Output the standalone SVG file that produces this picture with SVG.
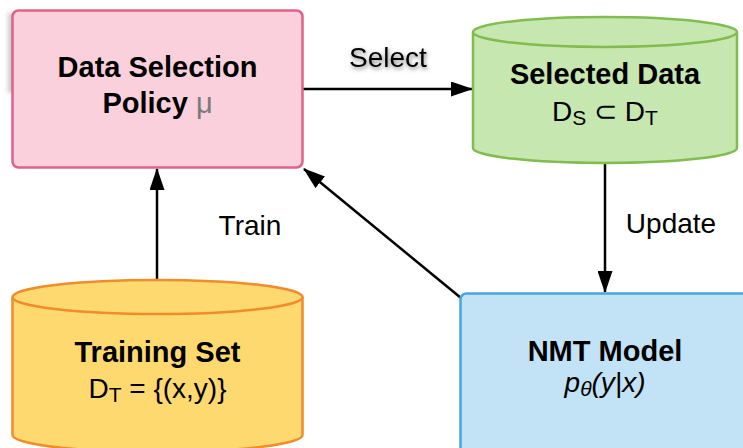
<svg xmlns="http://www.w3.org/2000/svg" width="743" height="448" viewBox="0 0 743 448">
  <style>
    text { font-family: "Liberation Sans", Arial, sans-serif; fill: #000; }
    .title { font-size: 29px; font-weight: bold; }
    .sub { font-size: 28px; }
    .label { font-size: 28px; }
    .edge { fill: none; stroke: #000; stroke-width: 2.5; }
  </style>
  <defs>
    <marker id="arrow" viewBox="0 0 22 15" refX="21" refY="7.5" markerWidth="22" markerHeight="15" markerUnits="userSpaceOnUse" orient="auto">
      <path d="M0,0 L22,7.5 L0,15 Z" fill="#000"/>
    </marker>
    <filter id="soft" x="-50%" y="-50%" width="200%" height="200%">
      <feGaussianBlur stdDeviation="2"/>
    </filter>
    <filter id="textShadow" x="-20%" y="-40%" width="140%" height="180%">
      <feDropShadow dx="1" dy="2" stdDeviation="2.2" flood-color="#000" flood-opacity="0.5"/>
    </filter>
  </defs>

  <!-- connectors -->
  <g id="connectors">
    <line class="edge" x1="303" y1="89" x2="472" y2="89" marker-end="url(#arrow)"/>
    <line class="edge" x1="157" y1="281" x2="157" y2="169" marker-end="url(#arrow)"/>
    <line class="edge" x1="461" y1="298" x2="304" y2="169" marker-end="url(#arrow)"/>
    <line class="edge" x1="605" y1="162" x2="605" y2="292" marker-end="url(#arrow)"/>
    <text class="label" x="388" y="67" text-anchor="middle" filter="url(#textShadow)">Select</text>
    <text class="label" x="250" y="235" text-anchor="middle">Train</text>
    <text class="label" x="671" y="233" text-anchor="middle">Update</text>
  </g>

  <!-- policy -->
  <g id="policy">
    <rect x="8" y="13" width="12" height="80" fill="#999" opacity="0.5" filter="url(#soft)"/>
    <rect x="12.5" y="10.5" width="290" height="157" rx="6" fill="#f9d0dc" stroke="#e0628a" stroke-width="2.5"/>
    <text class="title" x="157.5" y="77" text-anchor="middle">Data Selection</text>
    <text class="title" x="157.5" y="113" text-anchor="middle">Policy <tspan font-weight="normal" fill="#7a7a7a">μ</tspan></text>
  </g>

  <!-- selected data -->
  <g id="selected-data">
    <path d="M473,32 L473,148 A132,15 0 0 0 737,148 L737,32" fill="#c7e7b0" stroke="#80bc4e" stroke-width="2.5"/>
    <ellipse cx="605" cy="32" rx="132" ry="15" fill="#c7e7b0" stroke="#80bc4e" stroke-width="2.5"/>
    <text class="title" x="605" y="84" text-anchor="middle">Selected Data</text>
    <text class="sub" x="605" y="121" text-anchor="middle">D<tspan font-size="21" dy="4">S</tspan><tspan dy="-4"> ⊂ D</tspan><tspan font-size="21" dy="4">T</tspan></text>
  </g>

  <!-- training set -->
  <g id="training-set">
    <path d="M12.5,297 L12.5,435 A145,17 0 0 0 302.5,435 L302.5,297" fill="#fed96f" stroke="#f08c2c" stroke-width="2.5"/>
    <ellipse cx="157.5" cy="297" rx="145" ry="17" fill="#fed96f" stroke="#f08c2c" stroke-width="2.5"/>
    <text class="title" x="157.5" y="362" text-anchor="middle">Training Set</text>
    <text class="sub" x="157.5" y="398" text-anchor="middle">D<tspan font-size="21" dy="4">T</tspan><tspan dy="-4"> = {(x,y)}</tspan></text>
  </g>

  <!-- nmt model -->
  <g id="nmt-model">
    <rect x="460.5" y="293.5" width="300" height="170" rx="6" fill="#c2e3f5" stroke="#46a7df" stroke-width="2.5"/>
    <text class="title" x="605" y="361" text-anchor="middle">NMT Model</text>
    <text class="sub" x="605" y="392" text-anchor="middle" font-style="italic" fill="#222">p<tspan font-size="21" dy="4">θ</tspan><tspan dy="-4">(y|x)</tspan></text>
  </g>
</svg>
